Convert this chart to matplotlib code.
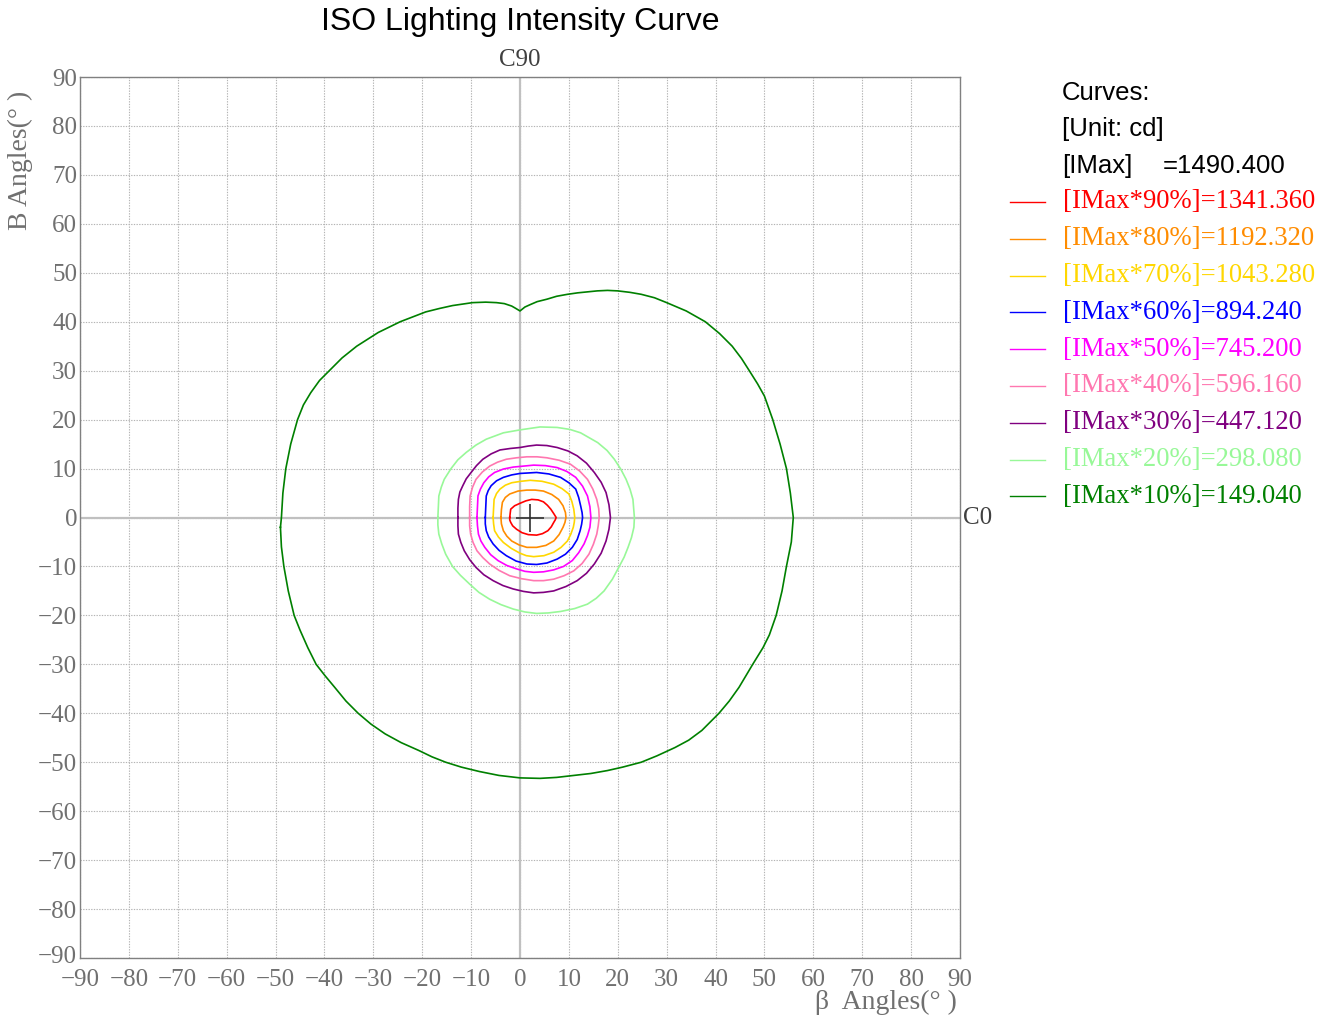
import matplotlib
matplotlib.use("Agg")
import matplotlib.pyplot as plt
from matplotlib.lines import Line2D
import matplotlib.transforms as mtransforms

# ---------------- data ----------------
title = "ISO Lighting Intensity Curve"
imax = 1490.400
percents = [90, 80, 70, 60, 50, 40, 30, 20, 10]
level_values = [1341.360, 1192.320, 1043.280, 894.240, 745.200, 596.160, 447.120, 298.080, 149.040]
colors = ["#ff0000", "#ff8c00", "#ffd700", "#0000ff", "#ff00ff",
          "#ff77b0", "#800080", "#98f898", "#008000"]
ticks = list(range(-90, 91, 10))
imax_pos = (2.0, 0.0)

c90_x = [-2.1, -2.0, -1.9, -1.1, 0.0, 1.2, 2.4, 3.7, 4.8, 5.6, 6.3, 6.9, 7.4, 7.2, 6.9, 6.4, 5.7, 4.6, 3.4, 1.7, 0.4, -0.7, -1.5, -1.9, -2.1]
c90_y = [0.0, 0.9, 1.7, 2.4, 2.9, 3.4, 3.7, 3.6, 3.2, 2.5, 1.7, 0.8, 0.0, -0.5, -1.0, -1.9, -2.7, -3.3, -3.6, -3.5, -3.1, -2.4, -1.7, -1.0, -0.5]

c80_x = [-3.9, -3.8, -3.6, -3.0, -2.1, -0.4, 1.4, 3.1, 4.8, 6.5, 7.9, 8.8, 9.3, 9.4, 9.2, 8.8, 8.0, 6.9, 5.3, 3.4, 1.4, -0.2, -1.7, -2.7, -3.4, -3.8]
c80_y = [0.0, 1.6, 3.1, 4.1, 4.8, 5.4, 5.6, 5.6, 5.4, 4.7, 3.7, 2.4, 1.0, 0.0, -1.0, -2.0, -3.5, -4.8, -5.7, -6.1, -6.1, -5.6, -4.8, -3.8, -2.7, -1.3]

c70_x = [-5.5, -5.4, -5.3, -4.8, -4.1, -3.0, -1.7, 0.2, 2.1, 4.5, 6.9, 8.6, 10.0, 10.6, 11.0, 11.2,
         11.1, 10.9, 10.4, 9.7, 8.4, 6.9, 4.9, 2.8, 1.3, 0.0, -1.8, -3.4, -4.4, -5.2, -5.4]
c70_y = [0.0, 1.9, 3.7, 4.9, 5.8, 6.6, 7.1, 7.4, 7.6, 7.4, 6.8, 5.9, 4.8, 3.3, 1.7, 0.0,
         -1.0, -2.0, -3.4, -4.8, -6.1, -7.1, -7.8, -8.0, -7.8, -7.3, -6.3, -5.1, -4.0, -2.7, -1.3]

c60_x = [-7.1, -7.0, -6.9, -6.5, -5.9, -4.8, -3.4, -1.7, 0.0, 1.7, 3.4, 5.9, 8.3, 10.0, 11.4, 12.0, 12.4, 12.7, 12.8,
         12.6, 12.3, 11.7, 10.7, 9.3, 7.6, 5.5, 3.4, 1.4, -0.8, -2.8, -4.3, -5.5, -6.4, -6.9, -7.1]
c60_y = [0.0, 2.2, 4.4, 5.5, 6.5, 7.5, 8.2, 8.7, 9.0, 9.1, 9.2, 8.9, 8.2, 7.1, 5.8, 4.1, 2.4, 1.0, 0.0,
         -1.4, -2.7, -4.5, -6.1, -7.5, -8.5, -9.3, -9.6, -9.5, -8.9, -7.8, -6.7, -5.4, -4.0, -2.7, -1.3]

c50_x = [-8.8, -8.7, -8.6, -8.1, -7.4, -6.4, -5.2, -3.4, -1.4, 0.7, 2.8, 5.2, 7.6, 9.6, 11.4, 12.8, 13.8, 14.3, 14.5,
         14.3, 13.8, 13.1, 12.0, 10.7, 8.9, 6.9, 4.8, 2.8, 1.0, -0.7, -2.7, -4.5, -6.0, -7.2, -8.0, -8.5, -8.7]
c50_y = [0.0, 2.2, 4.4, 5.8, 7.1, 8.3, 9.2, 9.9, 10.3, 10.5, 10.7, 10.6, 10.2, 9.4, 8.2, 6.4, 4.4, 2.2, 0.0,
         -2.0, -3.7, -5.4, -7.2, -8.8, -10.0, -10.7, -11.1, -11.2, -11.0, -10.5, -9.8, -8.8, -7.6, -6.1, -4.8, -3.4, -1.7]

c40_x = [-10.3, -10.3, -10.2, -9.7, -9.0, -7.7, -6.2, -4.6, -2.8, -0.7, 1.4, 3.5, 5.5, 8.0, 10.3, 12.2, 13.8, 14.9, 15.7, 16.1, 16.2,
         16.0, 15.7, 15.0, 14.1, 12.7, 11.0, 9.0, 6.9, 4.8, 2.8, 0.3, -2.1, -4.3, -6.2, -7.6, -8.8, -9.6, -10.1, -10.3]
c40_y = [0.0, 2.2, 4.4, 6.2, 7.8, 9.3, 10.5, 11.3, 11.9, 12.2, 12.4, 12.4, 12.2, 11.7, 10.9, 9.5, 7.8, 5.8, 3.7, 1.8, 0.0,
         -1.7, -3.4, -5.5, -7.5, -9.4, -10.9, -11.9, -12.6, -12.9, -12.9, -12.5, -11.9, -10.8, -9.5, -8.2, -6.8, -5.1, -3.4, -1.7]

c30_x = [-12.7, -12.7, -12.6, -12.3, -11.7, -11.0, -10.0, -8.9, -7.6, -5.9, -4.1, -2.0, 0.0, 1.7, 3.4, 5.5, 7.6, 9.8, 11.7,
         13.6, 15.2, 16.6, 17.6, 18.2, 18.5, 18.2, 17.6, 16.6, 15.2, 13.6, 11.7, 9.4, 6.9, 4.8, 2.8, 0.7, -1.4, -3.5,
         -5.5, -7.4, -9.0, -10.3, -11.4, -12.1, -12.6, -12.7]
c30_y = [0.0, 1.9, 3.7, 5.2, 6.5, 7.9, 9.2, 10.6, 11.9, 13.0, 13.8, 14.1, 14.3, 14.6, 14.8, 14.7, 14.3, 13.6, 12.6,
         11.1, 9.2, 7.2, 5.1, 2.6, 0.0, -2.4, -4.8, -7.3, -9.5, -11.4, -12.9, -14.1, -15.0, -15.3, -15.4, -15.1, -14.6, -13.9,
         -12.9, -11.7, -10.2, -8.6, -6.8, -5.1, -3.4, -1.7]

c20_x = [-16.8, -16.7, -16.6, -16.1, -15.5, -14.1, -12.7, -11.0, -9.0, -6.9, -3.4, 0.0, 4.1, 7.6, 10.2, 12.4, 15.9,
         17.8, 19.3, 20.6, 21.7, 22.5, 23.1, 23.4, 23.3, 22.8, 22.1, 21.3, 20.3, 18.9, 17.2, 15.6, 13.8, 11.2, 8.3,
         5.8, 3.4, 1.0, -1.4, -3.9, -6.2, -8.4, -10.3, -12.2, -13.8, -15.2, -16.0, -16.6, -16.8]
c20_y = [0.0, 2.2, 4.4, 6.2, 7.8, 10.0, 11.8, 13.3, 14.8, 16.0, 17.3, 17.9, 18.5, 18.4, 18.0, 17.3, 15.3,
         13.7, 11.9, 9.9, 7.8, 5.8, 3.7, 0.0, -2.0, -4.1, -6.1, -8.1, -10.0, -12.6, -15.0, -16.5, -17.7, -18.6, -19.2,
         -19.5, -19.6, -19.3, -18.7, -17.8, -16.7, -15.3, -13.6, -11.8, -10.0, -7.5, -5.4, -3.4, -1.5]

c10_x = [-49.0, -48.8, -48.5, -47.9, -46.9, -45.5, -44.3, -42.8, -41.0, -39.0, -36.4, -33.4, -29.0, -24.5, -19.3,
         -16.5, -13.8, -9.7, -7.0, -4.8, -3.2, -1.7, -1.0, 0.0,
         1.0, 2.1, 3.5, 5.5, 7.5, 9.7, 11.8, 13.8, 15.8, 17.9, 20.0, 22.5, 24.8, 27.5, 30.0, 34.0, 37.9, 40.8, 43.4,
         45.3, 46.9, 48.6, 50.0, 51.7, 53.2, 54.5, 55.3, 55.9,
         55.5, 54.5, 53.6, 52.4, 51.0, 49.7, 47.6, 44.8, 42.8, 40.7, 37.2, 34.5, 31.7, 28.0, 24.8, 21.0, 17.9, 14.5,
         11.0, 7.5, 4.1, 0.0, -4.3, -8.3, -12.0, -15.2, -18.0, -20.7, -24.3, -27.6, -30.5, -33.1, -35.6, -37.9,
         -39.9, -41.7, -43.4, -45.0, -46.2, -47.4, -48.3, -48.8]
c10_y = [-2.0, 0.0, 5.0, 10.0, 15.0, 20.0, 23.0, 25.5, 28.0, 30.0, 32.6, 35.0, 37.8, 40.0, 42.0,
         42.7, 43.3, 43.9, 44.0, 43.9, 43.7, 43.2, 42.8, 42.2,
         43.0, 43.5, 44.1, 44.6, 45.2, 45.6, 45.9, 46.1, 46.3, 46.4, 46.3, 46.0, 45.6, 44.9, 43.9, 42.2, 40.0, 37.6, 35.0,
         32.5, 30.0, 27.3, 24.8, 20.0, 15.0, 10.0, 5.0, 0.0,
         -5.0, -10.0, -15.0, -20.0, -24.0, -26.6, -30.0, -34.7, -37.5, -40.0, -43.5, -45.5, -47.0, -48.7, -50.0, -51.0, -51.7, -52.3,
         -52.7, -53.1, -53.3, -53.2, -52.7, -51.9, -51.0, -50.0, -48.9, -47.6, -46.0, -44.2, -42.2, -40.0, -37.5, -34.7,
         -32.3, -30.0, -26.6, -23.0, -20.0, -15.0, -10.0, -6.0]

contours_x = [c90_x, c80_x, c70_x, c60_x, c50_x, c40_x, c30_x, c20_x, c10_x]
contours_y = [c90_y, c80_y, c70_y, c60_y, c50_y, c40_y, c30_y, c20_y, c10_y]

# ---------------- figure ----------------
W, H = 1329, 1017
fig = plt.figure(figsize=(W / 100, H / 100), dpi=100)
ax = fig.add_axes([80 / W, 1 - 958 / H, 880 / W, 881 / H])

serif = ["Liberation Serif", "DejaVu Serif"]
sans = ["Liberation Sans", "DejaVu Sans"]
gray_txt = "#707070"

ax.set_xlim(-90, 90)
ax.set_ylim(-90, 90)
ax.set_xticks(ticks)
ax.set_yticks(ticks)
ax.set_xticklabels([("\u2212%d" % -t) if t < 0 else str(t) for t in ticks])
ax.set_yticklabels([("\u2212%d" % -t) if t < 0 else str(t) for t in ticks])
ax.tick_params(length=0, labelsize=18, labelcolor=gray_txt)
ax.tick_params(axis="x", pad=8)
ax.tick_params(axis="y", pad=2)
for lab in ax.get_xticklabels() + ax.get_yticklabels():
    lab.set_family(serif)
# lift the lowest y label a little, as in the reference
ylab0 = ax.get_yticklabels()[0]
ylab0.set_transform(ylab0.get_transform() +
                    mtransforms.ScaledTranslation(0, 4 / 100, fig.dpi_scale_trans))

ax.grid(True, color="#b4b4b4", linestyle=(0, (1.2, 1.2)), linewidth=0.8)
ax.set_axisbelow(True)
for s in ax.spines.values():
    s.set_color("#808080")
    s.set_linewidth(1.0)
ax.axhline(0, color="#c0c0c0", linewidth=1.6, zorder=1)
ax.axvline(0, color="#c0c0c0", linewidth=1.6, zorder=1)

for cx, cy, col in zip(contours_x, contours_y, colors):
    ax.plot(cx + cx[:1], cy + cy[:1], color=col, linewidth=1.2, zorder=3,
            solid_joinstyle="round")

ax.plot([imax_pos[0]], [imax_pos[1]], marker="+", markersize=20, markeredgewidth=1.2,
        color="#303030", zorder=4)

# titles and labels
fig.text(520 / W, 1 - 22 / H, title, ha="center", va="center", fontsize=23, family=sans)
fig.text(520 / W, 1 - 60 / H, "C90", ha="center", va="center", fontsize=18, family=serif, color="#404040")
fig.text(963 / W, 1 - 518 / H, "C0", ha="left", va="center", fontsize=18, family=serif, color="#404040")
fig.text(957 / W, 1 - 1002 / H, "\u03b2  Angles(\u00b0 )", ha="right", va="center", fontsize=20,
         family=serif, color=gray_txt)
fig.text(20 / W, 1 - 160 / H, "B Angles(\u00b0 )", ha="center", va="center", rotation=90,
         fontsize=20, family=serif, color=gray_txt)

# legend panel
fig.text(1062 / W, 1 - 93 / H, "Curves:", ha="left", va="center", fontsize=18.5, family=sans)
fig.text(1062 / W, 1 - 129 / H, "[Unit: cd]", ha="left", va="center", fontsize=18.5, family=sans)
fig.text(1062 / W, 1 - 166 / H, "[IMax]", ha="left", va="center", fontsize=18.5, family=sans)
fig.text(1163 / W, 1 - 166 / H, "=%.3f" % imax, ha="left", va="center", fontsize=18.5, family=sans)

y0, dy = 202, 36.8
for i, (p, v, col) in enumerate(zip(percents, level_values, colors)):
    yy = 1 - (y0 + i * dy) / H
    fig.add_artist(Line2D([1010 / W, 1045 / W], [yy, yy], color=col, linewidth=1.0))
    fig.text(1063 / W, yy, "[IMax*%d%%]=%.3f" % (p, v), ha="left", va="center",
             fontsize=19.2, family=serif, color=col)

fig.savefig("out.png", dpi=100)
